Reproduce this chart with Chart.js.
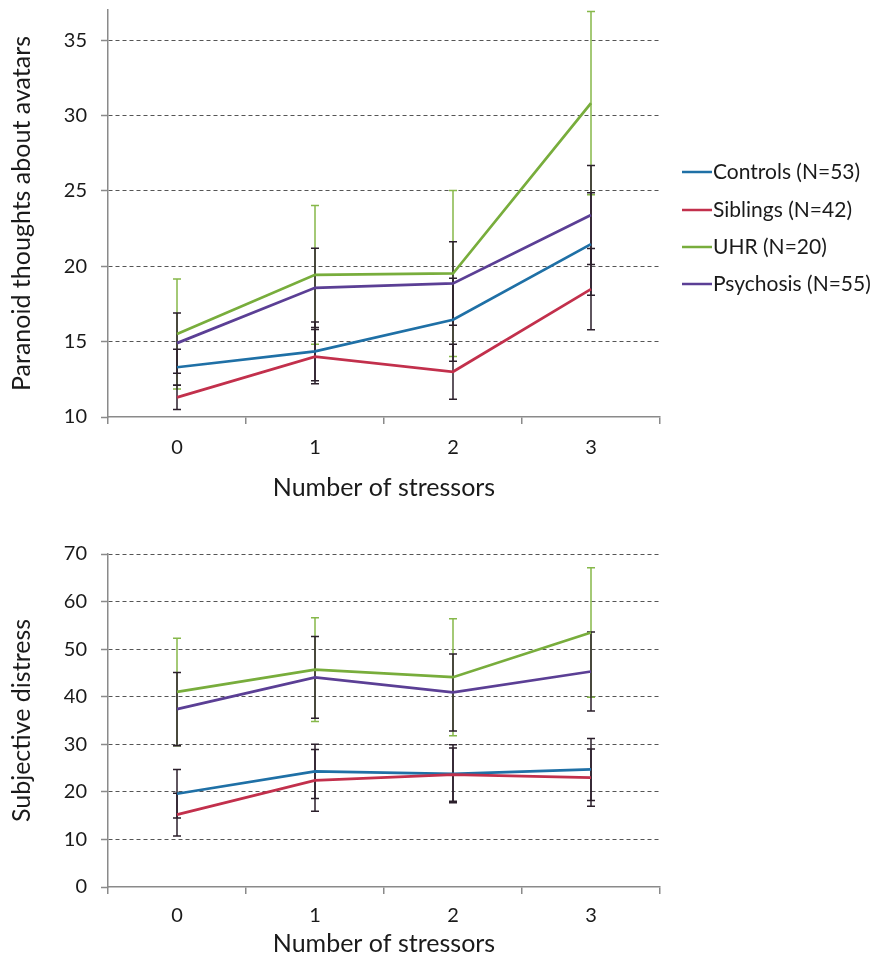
<!DOCTYPE html>
<html>
<head>
<meta charset="utf-8">
<script src="https://cdn.jsdelivr.net/npm/chart.js@4.4.1/dist/chart.umd.min.js"></script>
<style>
  html, body { margin: 0; padding: 0; background: #fff; }
  #wrap { width: 875px; height: 961px; position: relative; }
  #c1 { position: absolute; left: 0; top: 0; }
  #c2 { position: absolute; left: 0; top: 510px; }
</style>
</head>
<body>
<div id="wrap">
  <canvas id="c1" width="875" height="510"></canvas>
  <canvas id="c2" width="875" height="451"></canvas>
</div>
<script>
// ---- Data ----
const categories = ['0', '1', '2', '3'];
const seriesLabels = ['Controls (N=53)', 'Siblings (N=42)', 'UHR (N=20)', 'Psychosis (N=55)'];

// Top panel: paranoid thoughts about avatars
const paranoidControls  = [13.3, 14.35, 16.45, 21.47];
const paranoidSiblings  = [11.3, 14.0, 13.0, 18.48];
const paranoidUHR       = [15.5, 19.43, 19.52, 30.82];
const paranoidPsychosis = [14.9, 18.57, 18.86, 23.4];
const paranoidErrControls  = [1.2, 1.95, 2.75, 3.4];
const paranoidErrSiblings  = [0.8, 1.8, 1.83, 2.7];
const paranoidErrUHR       = [3.65, 4.6, 5.5, 6.08];
const paranoidErrPsychosis = [2.0, 2.63, 2.77, 3.28];

// Bottom panel: subjective distress
const distressControls  = [19.6, 24.3, 23.8, 24.7];
const distressSiblings  = [15.2, 22.4, 23.6, 23.0];
const distressUHR       = [41.0, 45.7, 44.1, 53.5];
const distressPsychosis = [37.4, 44.06, 40.9, 45.3];
const distressErrControls  = [5.1, 5.7, 6.1, 6.5];
const distressErrSiblings  = [4.5, 6.5, 5.6, 6.0];
const distressErrUHR       = [11.3, 10.9, 12.3, 13.6];
const distressErrPsychosis = [7.7, 8.6, 8.1, 8.3];

// ---- Styles ----
const colors = ['#1f70a6', '#c2304c', '#78ad3c', '#5b3f95'];
const errColors = ['#2b1f2b', '#2b1f2b', '#86b84a', '#2b1f2b'];
const FONT = 'Lato, "Open Sans", sans-serif';

// Error bar plugin
const errorBars = {
  id: 'errorBars',
  beforeDatasetsDraw(chart, args, opts) {
    const ctx = chart.ctx;
    const x = chart.scales.x, y = chart.scales.y;
    const errs = opts.errs;
    const drawOrder = [2, 0, 1, 3];
    ctx.save();
    drawOrder.forEach(di => {
      const ds = chart.data.datasets[di];
      ctx.strokeStyle = errColors[di];
      ctx.lineWidth = 1.5;
      ds.data.forEach((v, i) => {
        const px = x.getPixelForValue(i);
        const top = y.getPixelForValue(v + errs[di][i]);
        const bot = y.getPixelForValue(v - errs[di][i]);
        ctx.beginPath();
        ctx.moveTo(px, top); ctx.lineTo(px, bot);
        ctx.moveTo(px - 4, top); ctx.lineTo(px + 4, top);
        ctx.moveTo(px - 4, bot); ctx.lineTo(px + 4, bot);
        ctx.stroke();
      });
    });
    ctx.restore();
  }
};

// Legend plugin (top chart only)
const sideLegend = {
  id: 'sideLegend',
  afterDraw(chart, args, opts) {
    if (!opts.show) return;
    const ctx = chart.ctx;
    ctx.save();
    ctx.font = '21px ' + FONT;
    ctx.textBaseline = 'middle';
    ctx.textAlign = 'left';
    const ys = [172, 210, 247, 284];
    chart.data.datasets.forEach((ds, i) => {
      ctx.strokeStyle = colors[i];
      ctx.lineWidth = 2.5;
      ctx.beginPath();
      ctx.moveTo(682, ys[i]); ctx.lineTo(712, ys[i]);
      ctx.stroke();
      ctx.fillStyle = '#1a1a1a';
      ctx.fillText(ds.label, 713, ys[i]);
    });
    ctx.restore();
  }
};

function makeDatasets(vals) {
  const orders = [4, 3, 2, 1];
  return vals.map((v, i) => ({
    label: seriesLabels[i],
    data: v,
    borderColor: colors[i],
    backgroundColor: colors[i],
    borderWidth: 2.75,
    pointRadius: 0,
    tension: 0,
    order: orders[i]
  }));
}

function makeOptions(cfg) {
  return {
    responsive: false,
    animation: false,
    layout: { padding: { top: cfg.padTop, right: 875 - 660, left: 0, bottom: 0 } },
    plugins: {
      legend: { display: false },
      tooltip: { enabled: false },
      errorBars: { errs: cfg.errs },
      sideLegend: { show: cfg.legend }
    },
    scales: {
      x: {
        type: 'category',
        offset: true,
        grid: { offset: true, drawOnChartArea: false, drawTicks: true, tickLength: 7, color: '#8a8a8a', lineWidth: 1.5 },
        border: { color: '#8a8a8a', width: 1.5 },
        ticks: { color: '#1a1a1a', font: { family: FONT, size: 20 }, padding: cfg.xTickPad },
        title: { display: true, text: 'Number of stressors', color: '#1a1a1a', font: { family: FONT, size: 25 }, padding: { top: 0, bottom: cfg.xTitlePad } },
        afterFit: s => { s.height = cfg.xHeight; s.paddingLeft = 0; s.paddingRight = 0; }
      },
      y: {
        min: cfg.min, max: cfg.max,
        ticks: { stepSize: cfg.step, color: '#1a1a1a', font: { family: FONT, size: 20 }, padding: 14 },
        afterBuildTicks: s => { s.ticks = s.ticks.filter(t => Math.abs(t.value % cfg.step) < 1e-6); },
        grid: { color: ctx => ctx.tick && ctx.tick.value === cfg.min ? 'rgba(0,0,0,0)' : '#555555', lineWidth: 1, tickLength: 7, tickColor: '#8a8a8a', tickWidth: 1.5, tickBorderDash: [] },
        border: { color: '#8a8a8a', width: 1.5, dash: [4, 3] },
        title: { display: true, text: cfg.yTitle, color: '#1a1a1a', font: { family: FONT, size: 25 }, padding: { top: 7, bottom: 0 } },
        afterFit: s => { s.width = 108; s.paddingTop = 0; s.paddingBottom = 0; }
      }
    }
  };
}

new Chart(document.getElementById('c1'), {
  type: 'line',
  data: { labels: categories, datasets: makeDatasets([paranoidControls, paranoidSiblings, paranoidUHR, paranoidPsychosis]) },
  options: makeOptions({
    padTop: 10, min: 10, max: 37, step: 5, yTitle: 'Paranoid thoughts about avatars',
    xHeight: 93, xTickPad: 12, xTitlePad: 7, legend: true,
    errs: [paranoidErrControls, paranoidErrSiblings, paranoidErrUHR, paranoidErrPsychosis]
  }),
  plugins: [errorBars, sideLegend]
});

new Chart(document.getElementById('c2'), {
  type: 'line',
  data: { labels: categories, datasets: makeDatasets([distressControls, distressSiblings, distressUHR, distressPsychosis]) },
  options: makeOptions({
    padTop: 44, min: 0, max: 70, step: 10, yTitle: 'Subjective distress',
    xHeight: 74, xTickPad: 10, xTitlePad: 2, legend: false,
    errs: [distressErrControls, distressErrSiblings, distressErrUHR, distressErrPsychosis]
  }),
  plugins: [errorBars, sideLegend]
});
</script>
</body>
</html>
